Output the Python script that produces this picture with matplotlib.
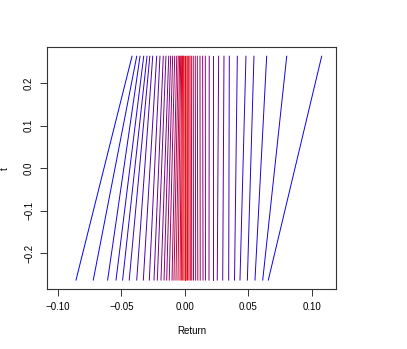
import matplotlib
matplotlib.use("Agg")
import matplotlib.pyplot as plt
from matplotlib.colors import LinearSegmentedColormap

# return at t = -0.2625 (bottom) and t = 0.2625 (top), one entry per line
t_range = [-0.2625, 0.2625]
ret_bottom = [
    -0.0858, -0.0722, -0.0609, -0.0543, -0.0491, -0.0439, -0.0380, -0.0328,
    -0.0281, -0.0244, -0.0218, -0.0189, -0.0165, -0.0144, -0.0124, -0.0102,
    -0.0087, -0.0071, -0.0055, -0.0039, -0.0029, -0.0018, -0.0008,
    0.0000,
    0.0009, 0.0020, 0.0031, 0.0042, 0.0053, 0.0067, 0.0084, 0.0101,
    0.0120, 0.0142, 0.0161, 0.0189, 0.0223, 0.0254, 0.0297, 0.0344,
    0.0390, 0.0433, 0.0491, 0.0551, 0.0612, 0.0656,
]
ret_top = [
    -0.0417, -0.0380, -0.0354, -0.0325, -0.0299, -0.0277, -0.0254, -0.0223,
    -0.0197, -0.0171, -0.0150, -0.0128, -0.0113, -0.0097, -0.0081, -0.0065,
    -0.0053, -0.0042, -0.0034, -0.0026, -0.0019, -0.0013, -0.0007,
    0.0000,
    0.0008, 0.0018, 0.0029, 0.0039, 0.0050, 0.0065, 0.0081, 0.0097,
    0.0118, 0.0139, 0.0160, 0.0191, 0.0223, 0.0265, 0.0307, 0.0349,
    0.0412, 0.0480, 0.0543, 0.0643, 0.0801, 0.1076,
]
x_ticks = [-0.10, -0.05, 0.00, 0.05, 0.10]
x_labels = ["\u22120.10", "\u22120.05", "0.00", "0.05", "0.10"]
y_ticks = [-0.2, -0.1, 0.0, 0.1, 0.2]
y_labels = ["\u22120.2", "\u22120.1", "0.0", "0.1", "0.2"]

plt.rcParams["font.family"] = ["Liberation Sans", "DejaVu Sans"]
plt.rcParams["font.size"] = 7

fig = plt.figure(figsize=(4.07, 3.49), dpi=100)
ax = fig.add_axes([0.1162, 0.1719, 0.7094, 0.6926])

ramp = LinearSegmentedColormap.from_list("br", ["#0000ff", "#ff0000"])
centre = ret_top.index(0.0)
for i in range(len(ret_top)):
    c = ramp(1 - abs(i - centre) / centre)
    ax.plot([ret_bottom[i], ret_top[i]], t_range, color=c, lw=0.7)

ax.set_xlim(-0.1084, 0.1189)
ax.set_ylim(-0.2835, 0.2835)
ax.set_xticks(x_ticks)
ax.set_xticklabels(x_labels)
ax.set_yticks(y_ticks)
ax.set_yticklabels(y_labels, rotation=90, va="center")
ax.tick_params(length=5, width=0.7, pad=4.5, colors="#333333", labelcolor="black")
for s in ax.spines.values():
    s.set_linewidth(0.8)
    s.set_color("#333333")
ax.set_xlabel("Return", labelpad=10)
ax.set_ylabel("t", labelpad=10)

fig.savefig("out.png", dpi=100)
